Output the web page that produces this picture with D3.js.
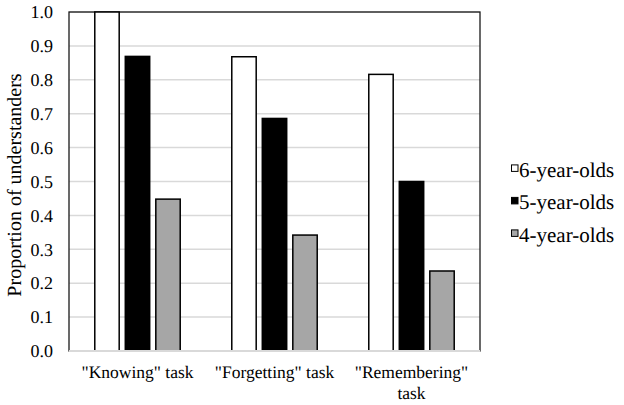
<!DOCTYPE html>
<html>
<head>
<meta charset="utf-8">
<script src="https://cdn.jsdelivr.net/npm/d3@7"></script>
<style>
html,body{margin:0;padding:0;background:#fff;}
svg{display:block;}
svg text{font-family:'Liberation Serif','Times New Roman',serif;text-rendering:geometricPrecision;}
</style>
</head>
<body>
<svg id="chart" width="624" height="405"></svg>
<script>
const categories = ['"Knowing" task', '"Forgetting" task', '"Remembering" task'];
const categoryLines = [['"Knowing" task'], ['"Forgetting" task'], ['"Remembering"', 'task']];
const seriesNames = ["6-year-olds", "5-year-olds", "4-year-olds"];
const sixYearOlds = [1.0, 0.868, 0.816];
const fiveYearOlds = [0.869, 0.686, 0.5];
const fourYearOlds = [0.448, 0.342, 0.236];
const seriesValues = [sixYearOlds, fiveYearOlds, fourYearOlds];
const seriesColors = ["#ffffff", "#000000", "#a6a6a6"];
const yTicks = [0, 0.1, 0.2, 0.3, 0.4, 0.5, 0.6, 0.7, 0.8, 0.9, 1.0];

const FONT = "'Liberation Serif','Times New Roman',serif";
const svg = d3.select("#chart");
const L = 69, R = 480, T = 12, B = 351;

const x = d3.scaleBand().domain(categories).range([L, R]).paddingInner(0).paddingOuter(0);
const xs = d3.scaleBand().domain(seriesNames).range([0, x.bandwidth()]).paddingInner(0.2).paddingOuter(0.845);
const y = d3.scaleLinear().domain([0, 1]).range([B, T]);

// gridlines
svg.append("g").selectAll("line").data(yTicks.slice(1)).join("line")
  .attr("x1", L).attr("x2", R)
  .attr("y1", d => y(d)).attr("y2", d => y(d))
  .attr("stroke", "#d9d9d9").attr("stroke-width", 1.5);

// plot border
svg.append("rect").attr("x", L).attr("y", T).attr("width", R - L).attr("height", B - T)
  .attr("fill", "none").attr("stroke", "#1a1a1a").attr("stroke-width", 1.3);

// bars
const rows = [];
seriesNames.forEach((s, si) => categories.forEach((c, ci) => rows.push({s, si, c, v: seriesValues[si][ci]})));
svg.append("g").selectAll("rect").data(rows).join("rect")
  .attr("x", d => x(d.c) + xs(d.s))
  .attr("y", d => y(d.v))
  .attr("width", xs.bandwidth())
  .attr("height", d => y(0) - y(d.v))
  .attr("fill", d => seriesColors[d.si])
  .attr("stroke", "#000").attr("stroke-width", 1.5);

// bottom axis line
svg.append("line").attr("x1", L).attr("x2", R).attr("y1", B).attr("y2", B)
  .attr("stroke", "#d9d9d9").attr("stroke-width", 2);

// y axis labels
const yAxis = d3.axisLeft(y).tickValues(yTicks).tickFormat(d3.format(".1f")).tickSize(0).tickPadding(16);
const ya = svg.append("g").attr("transform", `translate(${L},0)`).call(yAxis)
  .attr("font-family", FONT).attr("font-size", 18);
ya.select(".domain").remove();
ya.selectAll("text").attr("font-family", FONT).attr("font-size", 18).attr("fill", "#000");

// x labels
const xl = svg.append("g").attr("font-family", FONT).selectAll("text").data(categories).join("text")
  .attr("x", d => x(d) + x.bandwidth() / 2)
  .attr("y", 378)
  .attr("text-anchor", "middle")
  .attr("font-family", FONT)
  .attr("font-size", 17.5).attr("fill", "#000");
xl.each(function(d, i) {
  d3.select(this).selectAll("tspan").data(categoryLines[i]).join("tspan")
    .attr("x", x(d) + x.bandwidth() / 2)
    .attr("dy", (t, j) => j === 0 ? 0 : 20.5)
    .text(t => t);
});

// y title
svg.append("text").attr("transform", "translate(21,185) rotate(-90)")
  .attr("text-anchor", "middle").attr("font-family", FONT).attr("font-size", 20).attr("fill", "#000")
  .text("Proportion of understanders");

// legend
const lg = svg.append("g").attr("font-family", FONT).selectAll("g").data(seriesNames).join("g")
  .attr("transform", (d, i) => `translate(511,${176.7 + i * 32.5})`);
lg.append("rect").attr("x", 0.5).attr("y", -11.8).attr("width", 6.5).attr("height", 6.5)
  .attr("fill", (d, i) => seriesColors[i]).attr("stroke", "#000").attr("stroke-width", 1);
lg.append("text").attr("x", 8).attr("y", 0).attr("font-family", FONT).attr("font-size", 21).attr("fill", "#000").text(d => d);
</script>
</body>
</html>
